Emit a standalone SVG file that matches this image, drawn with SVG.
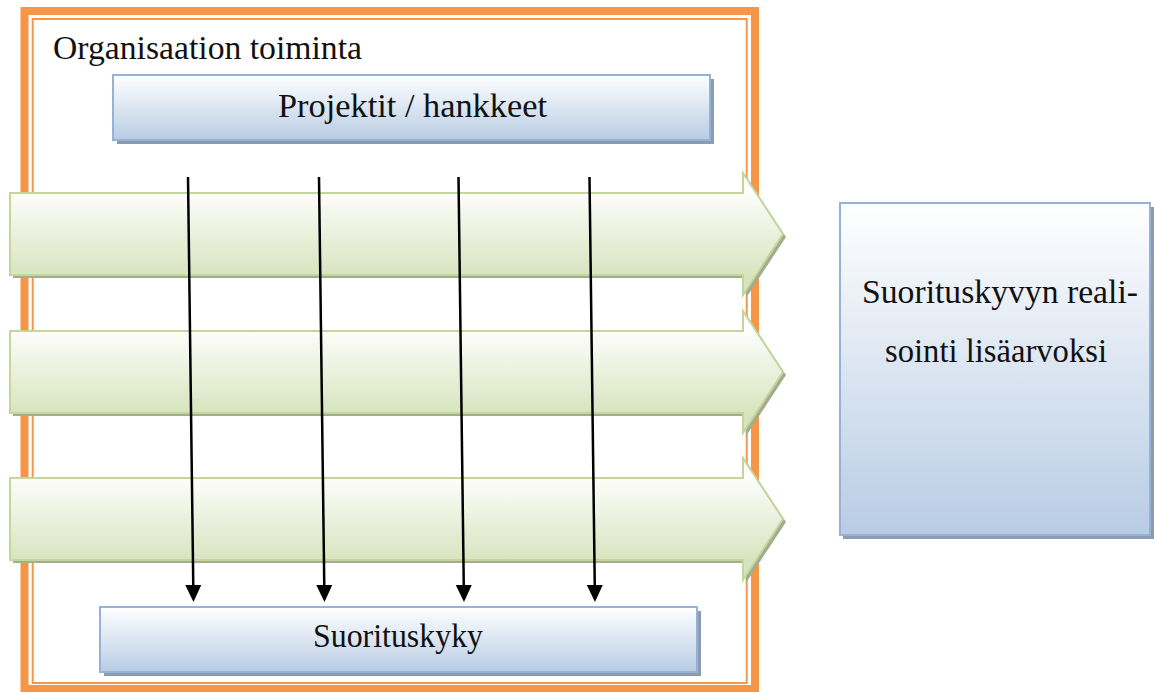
<svg xmlns="http://www.w3.org/2000/svg" width="1154" height="692" viewBox="0 0 1154 692">
  <defs>
    <linearGradient id="blueGrad" x1="0" y1="0" x2="0" y2="1">
      <stop offset="0" stop-color="#ffffff"/>
      <stop offset="1" stop-color="#b8cce4"/>
    </linearGradient>
    <linearGradient id="greenGrad" x1="0" y1="0" x2="0" y2="1">
      <stop offset="0.16" stop-color="#fdfdfb"/>
      <stop offset="0.84" stop-color="#d8e4bf"/>
    </linearGradient>
    <marker id="ah" markerUnits="userSpaceOnUse" markerWidth="22" markerHeight="20" refX="3" refY="10" orient="auto" overflow="visible">
      <path d="M0,2 L17,10 L0,18 Z" fill="#000000"/>
    </marker>
    <path id="arrowShape" d="M10,0 H743 V-20 L783,41 L743,102 V82 H10 Z"/>
  </defs>
  <style>
    text { font-family: 'Liberation Serif', 'DejaVu Serif', serif; font-size: 34px; fill: #111111; }
    .box { fill: url(#blueGrad); stroke: #95b3d7; stroke-width: 2; }
    .boxShadow { fill: #8b9bb0; }
    .flow { fill: url(#greenGrad); stroke: #c3d69b; stroke-width: 2; }
    .flowShadow { fill: #a3ac8c; }
    .conn { stroke: #000000; stroke-width: 2.5; fill: none; marker-end: url(#ah); }
  </style>
  <rect width="1154" height="692" fill="#ffffff"/>

  <g id="frame">
    <rect x="24.5" y="11" width="730.5" height="678" fill="none" stroke="#f79646" stroke-width="8"/>
    <rect x="32.7" y="19" width="714" height="664" fill="none" stroke="#f79646" stroke-width="2"/>
    <text x="53" y="59" textLength="309" lengthAdjust="spacingAndGlyphs">Organisaation toiminta</text>
  </g>

  <g id="projektit">
    <rect class="boxShadow" x="117" y="79" width="597" height="65"/>
    <rect class="box" x="113" y="75" width="597" height="65"/>
    <text x="278" y="117" textLength="269" lengthAdjust="spacingAndGlyphs">Projektit / hankkeet</text>
  </g>

  <g id="flow1">
    <use href="#arrowShape" class="flowShadow" transform="translate(3,196)"/>
    <use href="#arrowShape" class="flow" transform="translate(0,193)"/>
  </g>
  <g id="flow2">
    <use href="#arrowShape" class="flowShadow" transform="translate(3,334)"/>
    <use href="#arrowShape" class="flow" transform="translate(0,331)"/>
  </g>
  <g id="flow3">
    <use href="#arrowShape" class="flowShadow" transform="translate(3,481)"/>
    <use href="#arrowShape" class="flow" transform="translate(0,478)"/>
  </g>

  <g id="suorituskyky">
    <rect class="boxShadow" x="104" y="611" width="597" height="65"/>
    <rect class="box" x="100" y="607" width="597" height="65"/>
    <text x="313" y="647" textLength="170" lengthAdjust="spacingAndGlyphs">Suorituskyky</text>
  </g>

  <g id="realisointi">
    <rect class="boxShadow" x="843" y="207" width="311" height="332"/>
    <rect class="box" x="840" y="203" width="310" height="332"/>
    <text x="862" y="303" textLength="276" lengthAdjust="spacingAndGlyphs">Suorituskyvyn reali-</text>
    <text x="885" y="362" textLength="222" lengthAdjust="spacingAndGlyphs">sointi lisäarvoksi</text>
  </g>

  <g id="connectors">
    <line class="conn" x1="188" y1="177" x2="193.3" y2="588"/>
    <line class="conn" x1="319" y1="177" x2="324.3" y2="588"/>
    <line class="conn" x1="458.5" y1="177" x2="463.8" y2="588"/>
    <line class="conn" x1="589.5" y1="177" x2="594.8" y2="588"/>
  </g>
</svg>
